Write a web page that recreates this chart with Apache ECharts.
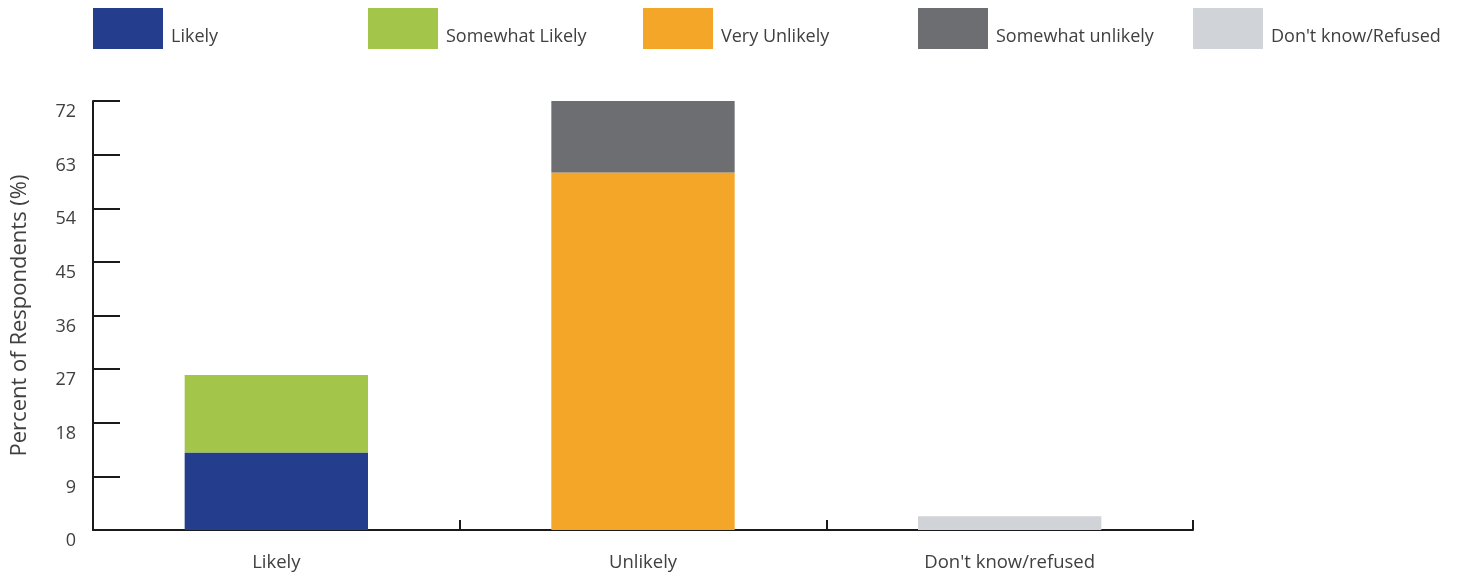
<!DOCTYPE html>
<html>
<head>
<meta charset="utf-8">
<script src="https://cdn.jsdelivr.net/npm/echarts@6/dist/echarts.min.js"></script>
<style>
  html, body { margin: 0; padding: 0; background: #fff; }
  #chart { width: 1466px; height: 577px; }
</style>
</head>
<body>
<div id="chart"></div>
<script>
// data
const categories = ['Likely', 'Unlikely', "Don't know/refused"];
const seriesNames = ['Likely', 'Somewhat Likely', 'Very Unlikely', 'Somewhat unlikely', "Don't know/Refused"];
const likely = [13, null, null];
const somewhatLikely = [13, null, null];
const veryUnlikely = [null, 60, null];
const somewhatUnlikely = [null, 12, null];
const dontKnow = [null, null, 2.3];
const yTicks = { min: 0, max: 72, interval: 9 };

const colors = ['#243e8d', '#a2c54a', '#f4a629', '#6d6e71', '#d0d3d8'];
const values = [likely, somewhatLikely, veryUnlikely, somewhatUnlikely, dontKnow];
const font = '"Open Sans", "Noto Sans", sans-serif';

const chart = echarts.init(document.getElementById('chart'));

// one legend per item so the spacing stays even
const legendLeft = [93, 368, 643, 918, 1193];
const legends = seriesNames.map((name, i) => ({
  data: [name],
  left: legendLeft[i],
  top: 8,
  padding: 0,
  itemWidth: 70,
  itemHeight: 41,
  itemGap: 0,
  icon: 'rect',
  selectedMode: false,
  formatter: '{t|{name}}',
  textStyle: {
    rich: {
      t: { fontFamily: font, fontSize: 18, color: '#404040', padding: [17, 0, 0, 3] }
    }
  }
}));

chart.setOption({
  animation: false,
  legend: legends,
  grid: { left: 93, right: 273, top: 101, bottom: 47, containLabel: false, outerBoundsMode: 'none' },
  xAxis: {
    type: 'category',
    data: categories,
    axisLine: { lineStyle: { color: '#1a1a1a', width: 2 } },
    axisTick: { show: true, inside: true, length: 10, lineStyle: { color: '#1a1a1a', width: 2 } },
    axisLabel: { fontFamily: font, fontSize: 18.5, color: '#404040', margin: 23 }
  },
  yAxis: {
    type: 'value',
    min: yTicks.min,
    max: yTicks.max,
    interval: yTicks.interval,
    name: 'Percent of Respondents (%)',
    nameLocation: 'middle',
    nameGap: 62,
    nameTextStyle: { fontFamily: font, fontSize: 22, color: '#404040' },
    axisLine: { show: true, lineStyle: { color: '#1a1a1a', width: 2 } },
    axisTick: { show: true, inside: true, length: 27, lineStyle: { color: '#1a1a1a', width: 2 } },
    axisLabel: { fontFamily: font, fontSize: 18, color: '#404040', margin: 17, verticalAlign: 'top', padding: [2, 0, 0, 0] },
    splitLine: { show: false }
  },
  series: seriesNames.map((name, i) => ({
    name: name,
    type: 'bar',
    stack: 'total',
    barWidth: '50%',
    data: values[i],
    itemStyle: { color: colors[i] }
  }))
});
</script>
</body>
</html>
